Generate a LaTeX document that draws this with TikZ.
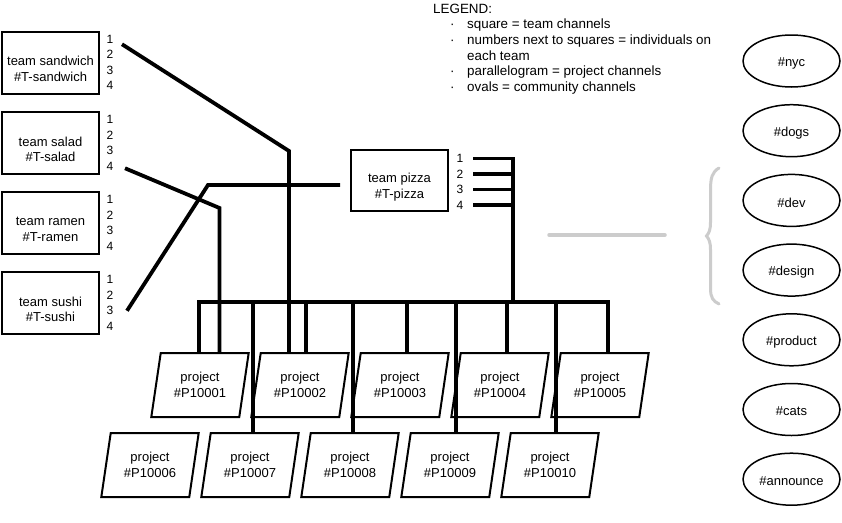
\documentclass[tikz,border=0pt]{standalone}
\usepackage{fontspec}
\setmainfont{Liberation Sans}
\usetikzlibrary{shapes.geometric}
\begin{document}
\begin{tikzpicture}[x=1pt,y=-1pt,
  txt/.style={font=\fontsize{13}{15.5}\selectfont, align=center, inner sep=0pt},
  num/.style={font=\fontsize{12}{14}\selectfont, inner sep=0pt},
  teambox/.style={draw, line width=2pt, fill=white, minimum width=97pt, minimum height=62pt, inner sep=0pt, outer sep=0pt},
  teamtext/.style={txt, yshift=-6.5pt},
  proj/.style={trapezium, trapezium left angle=76, trapezium right angle=104,
    trapezium stretches=true, draw, line width=2pt, line join=miter, fill=white,
    minimum width=98pt, minimum height=64pt, inner sep=0pt, outer sep=0pt, txt},
  oval/.style={ellipse, draw, line width=1.5pt, fill=white, minimum width=97pt, minimum height=52pt, inner sep=0pt, outer sep=0pt},
  ovaltext/.style={txt, yshift=-2pt},
  conn/.style={line width=3.8pt},
  faint/.style={draw=gray!40, line width=3.5pt, line cap=round},
]
\fill[white] (0,0) rectangle (842,522);
\useasboundingbox (0,0) rectangle (842,522);

% legend
\node[anchor=base west, inner sep=0pt, font=\fontsize{13.4}{15.7}\selectfont] (legend) at (433,13) {%
  \begin{tabular}[t]{@{}p{34pt}@{}l@{}}
  \multicolumn{2}{@{}l@{}}{LEGEND:}\\
  \hspace*{17pt}· & square = team channels\\
  \hspace*{17pt}· & numbers next to squares = individuals on\\
                  & each team\\
  \hspace*{17pt}· & parallelogram = project channels\\
  \hspace*{17pt}· & ovals = community channels
  \end{tabular}};

% team channels
\node[teambox, label={[teamtext]center:{team sandwich\\\#T-sandwich}}] (tsw) at (50.5,62.5) {};
\node[teambox, label={[teamtext]center:{team salad\\\#T-salad}}] (tsa) at (50.5,143) {};
\node[teambox, label={[teamtext]center:{team ramen\\\#T-ramen}}] (tra) at (50.5,223) {};
\node[teambox, label={[teamtext]center:{team sushi\\\#T-sushi}}] (tsu) at (50.5,303) {};
\node[teambox, minimum height=61pt, label={[teamtext]center:{team pizza\\\#T-pizza}}] (tpz) at (399.5,180.5) {};

% team members
\foreach \t/\y in {sw/62.5, sa/143, ra/223, su/303}{
  \foreach \i in {1,...,4}{
    \node[num] (\t\i) at (110,{\y-23.25+15.5*(\i-1)}) {\i};
  }
}
\foreach \i in {1,...,4}{
  \node[num] (pz\i) at (460,{158.5+15.5*(\i-1)}) {\i};
}

% project channels
\node[proj] (p1) at (200,385) {project\\\#P10001};
\node[proj] (p2) at (300,385) {project\\\#P10002};
\node[proj] (p3) at (400,385) {project\\\#P10003};
\node[proj] (p4) at (500,385) {project\\\#P10004};
\node[proj] (p5) at (600,385) {project\\\#P10005};
\node[proj] (p6) at (150,465) {project\\\#P10006};
\node[proj] (p7) at (250,465) {project\\\#P10007};
\node[proj] (p8) at (350,465) {project\\\#P10008};
\node[proj] (p9) at (450,465) {project\\\#P10009};
\node[proj] (p10) at (550,465) {project\\\#P10010};

% community channels
\foreach \n/\lab [count=\k from 0] in {nyc/\#nyc, dogs/\#dogs, dev/\#dev, design/\#design, product/\#product, cats/\#cats, announce/\#announce}{
  \node[oval, label={[ovaltext]center:\lab}] (\n) at (791.5,{61+69.7*\k}) {};
}

% bend points and bus
\coordinate (kSw) at (289,151);
\coordinate (kSa) at (219.5,208);
\coordinate (kSu) at (208,185);
\coordinate (busL) at (199,302);
\coordinate (busR) at (608,302);
\coordinate (busPz) at (513,302);
\coordinate (d2) at (306,302);
\coordinate (d3) at (407,302);
\coordinate (d4) at (507,302);
\coordinate (d7) at (253,302);
\coordinate (d8) at (353,302);
\coordinate (d9) at (456,302);
\coordinate (d10) at (556,302);

% connectors
\draw[conn] ([shift={(12,5)}]sw1.center) -- (kSw) -- (kSw |- p2.north);
\draw[conn] ([shift={(15,2)}]sa4.center) -- (kSa) -- (kSa |- p1.north);
\draw[conn] ([shift={(17,0)}]su3.center) -- (kSu) -- ([shift={(-11,4.5)}]tpz.west);
\draw[conn] ([shift={(13,0)}]pz1.center) -- (busPz |- pz1.center) -- (busPz);
\foreach \i in {2,3,4}{
  \draw[conn] ([shift={(13,0)}]pz\i.center) -- (busPz |- pz\i.center);
}
\draw[conn] (busL |- p1.north) -- (busL) -- (busR) -- (busR |- p5.north);
\foreach \d in {2,3,4,7,8,9,10}{
  \draw[conn] (d\d) -- (d\d |- p\d.north);
}

% grey mark and brace
\coordinate (gA) at (549,235);
\coordinate (gB) at (665,235);
\draw[faint] (gA) -- (gB);
\draw[draw=gray!40, line width=3pt, line cap=round]
  (719,168) .. controls (712,172) and (710.5,178) .. (710.5,190)
  -- (710.5,222) .. controls (710.5,230) and (709,233) .. (706.5,236)
  .. controls (709,239) and (710.5,242) .. (710.5,250)
  -- (710.5,288) .. controls (710.5,298) and (713,301) .. (719,304);
\end{tikzpicture}
\end{document}
